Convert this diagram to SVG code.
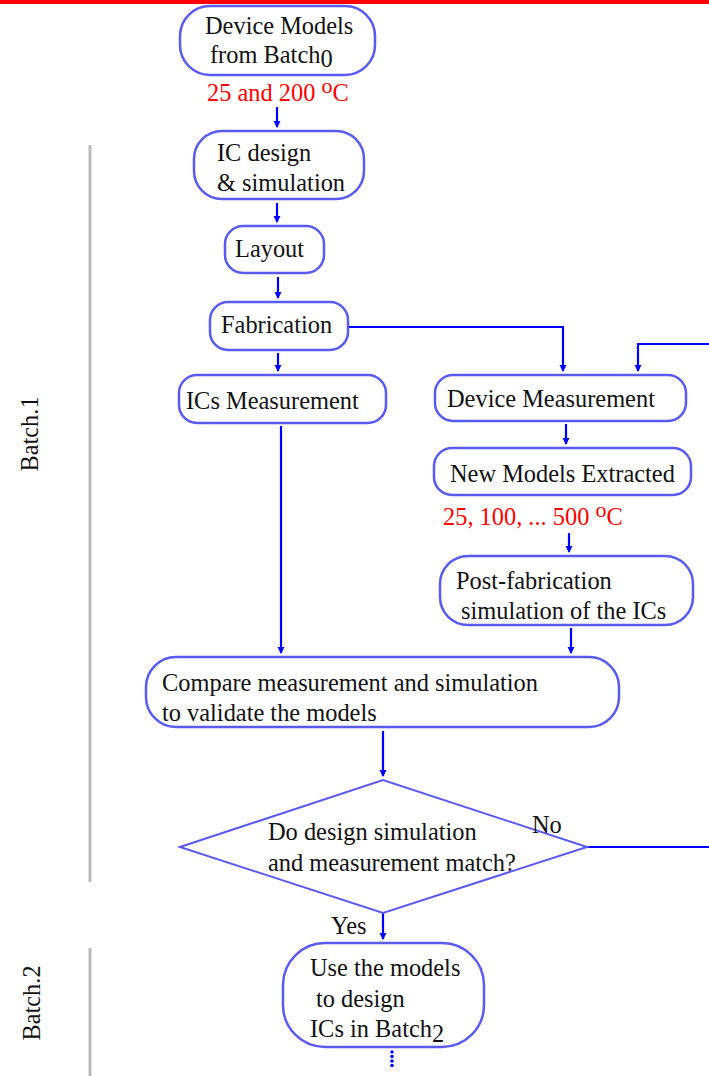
<svg xmlns="http://www.w3.org/2000/svg" width="709" height="1076" viewBox="0 0 709 1076">
  <defs>
    <marker id="ah" markerWidth="8" markerHeight="8" refX="6" refY="3.5" orient="auto" markerUnits="userSpaceOnUse">
      <path d="M0,0 L7,3.5 L0,7 Z" fill="#0000ff"/>
    </marker>
    <style>
      .node { fill: #ffffff; stroke: #5a5af0; stroke-width: 2.5; }
      .t { font-family: "Liberation Serif", "Times New Roman", serif; font-size: 24.4px; fill: #111111; }
      .red { font-family: "Liberation Serif", "Times New Roman", serif; font-size: 24.4px; fill: #ff0000; }
      .conn { fill: none; stroke: #0000ff; stroke-width: 2.2; }
      .arr { marker-end: url(#ah); }
      .batch { fill: none; stroke: #bbbbbb; stroke-width: 3; }
    </style>
  </defs>
  <rect x="0" y="0" width="709" height="1076" fill="#ffffff"/>
  <rect x="0" y="0" width="709" height="4" fill="#ff0000"/>

  <g id="batch-labels">
    <line class="batch" x1="90" y1="145" x2="90" y2="882"/>
    <text class="t" transform="translate(38,434) rotate(-90)" text-anchor="middle">Batch.1</text>
    <line class="batch" x1="90" y1="948" x2="90" y2="1076"/>
    <text class="t" transform="translate(40,1003) rotate(-90)" text-anchor="middle">Batch.2</text>
  </g>

  <g id="connectors">
    <line class="conn arr" x1="277" y1="107" x2="277" y2="127"/>
    <line class="conn arr" x1="277" y1="203" x2="277" y2="222"/>
    <line class="conn arr" x1="278" y1="277" x2="278" y2="298"/>
    <line class="conn arr" x1="278" y1="353" x2="278" y2="371"/>
    <polyline class="conn arr" points="348,327 563,327 563,371"/>
    <polyline class="conn arr" points="587,847 712,847 712,344 638,344 638,371"/>
    <line class="conn arr" x1="281" y1="426" x2="281" y2="653"/>
    <line class="conn arr" x1="566" y1="424" x2="566" y2="444"/>
    <line class="conn arr" x1="569" y1="533" x2="569" y2="552"/>
    <line class="conn arr" x1="571" y1="628" x2="571" y2="653"/>
    <line class="conn arr" x1="383" y1="731" x2="383" y2="776"/>
    <line class="conn arr" x1="383" y1="913" x2="383" y2="939"/>
    <g fill="#0000ff">
      <circle cx="392" cy="1052" r="1.8"/>
      <circle cx="392" cy="1056.5" r="1.8"/>
      <circle cx="392" cy="1061" r="1.8"/>
      <circle cx="392" cy="1065.5" r="1.8"/>
    </g>
  </g>

  <g id="n-device-models">
    <rect class="node" x="180" y="6" width="195" height="69" rx="30"/>
    <text class="t" x="205" y="34">Device Models</text>
    <text class="t" x="210" y="63">from Batch<tspan dy="4">0</tspan></text>
  </g>
  <text id="temp1" class="red" x="207" y="101">25 and 200 <tspan font-size="22" dy="-8">o</tspan><tspan dy="8">C</tspan></text>

  <g id="n-ic-design">
    <rect class="node" x="194" y="131" width="170" height="68" rx="28"/>
    <text class="t" x="217" y="161">IC design</text>
    <text class="t" x="217" y="191">&amp; simulation</text>
  </g>

  <g id="n-layout">
    <rect class="node" x="225" y="226" width="99" height="47" rx="18"/>
    <text class="t" x="235" y="257">Layout</text>
  </g>

  <g id="n-fabrication">
    <rect class="node" x="210" y="302" width="138" height="48" rx="18"/>
    <text class="t" x="221" y="333">Fabrication</text>
  </g>

  <g id="n-ics-measurement">
    <rect class="node" x="179" y="375" width="207" height="48" rx="18"/>
    <text class="t" x="186" y="409">ICs Measurement</text>
  </g>

  <g id="n-device-measurement">
    <rect class="node" x="435" y="375" width="251" height="46" rx="18"/>
    <text class="t" x="447" y="407">Device Measurement</text>
  </g>

  <g id="n-new-models">
    <rect class="node" x="434" y="448" width="257" height="47" rx="18"/>
    <text class="t" x="450" y="482">New Models Extracted</text>
  </g>
  <text id="temp2" class="red" x="443" y="525">25, 100, ... 500 <tspan font-size="22" dy="-8">o</tspan><tspan dy="8">C</tspan></text>

  <g id="n-post-fab">
    <rect class="node" x="440" y="556" width="253" height="69" rx="28"/>
    <text class="t" x="456" y="589">Post-fabrication</text>
    <text class="t" x="461" y="619">simulation of the ICs</text>
  </g>

  <g id="n-compare">
    <rect class="node" x="146" y="657" width="473" height="70" rx="30"/>
    <text class="t" x="162" y="691">Compare measurement and simulation</text>
    <text class="t" x="162" y="721">to validate the models</text>
  </g>

  <g id="n-decision">
    <polygon class="node" points="180,847 383,780 587,847 383,913" style="stroke-width:2"/>
    <text class="t" x="268" y="840">Do design simulation</text>
    <text class="t" x="268" y="871">and measurement match?</text>
    <text class="t" x="532" y="833">No</text>
    <text class="t" x="331" y="934">Yes</text>
  </g>

  <g id="n-use-models">
    <rect class="node" x="283" y="943" width="201" height="104" rx="42"/>
    <text class="t" x="310" y="976">Use the models</text>
    <text class="t" x="316" y="1007">to design</text>
    <text class="t" x="310" y="1037">ICs in Batch<tspan dy="5">2</tspan></text>
  </g>
</svg>
